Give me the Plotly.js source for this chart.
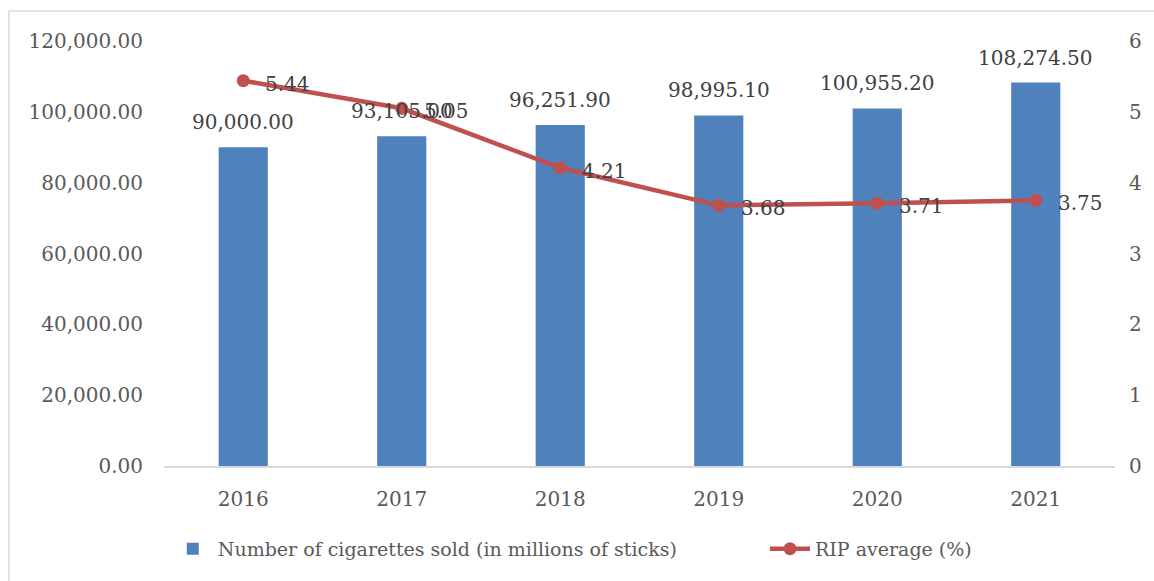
<!DOCTYPE html>
<html>
<head>
<meta charset="utf-8">
<script src="https://cdn.plot.ly/plotly-3.0.1.min.js"></script>
<style>html,body{margin:0;padding:0;background:#fff;}#chart{width:1154px;height:581px;}</style>
</head>
<body>
<div id="chart"></div>
<script>
const years = ['2016','2017','2018','2019','2020','2021'];
const cigarettesSold = [90000.00, 93105.00, 96251.90, 98995.10, 100955.20, 108274.50];
const ripAverage = [5.44, 5.05, 4.21, 3.68, 3.71, 3.75];
const ripLabels = ['5.44', '5.05', '4.21', '3.68', '3.71', '3.75'];
const leftTicks = [0, 20000, 40000, 60000, 80000, 100000, 120000];
const rightTicks = [0, 1, 2, 3, 4, 5, 6];

const fmt = v => v.toLocaleString('en-US', {minimumFractionDigits: 2, maximumFractionDigits: 2});
const tickFont = {family: 'DejaVu Serif', size: 20, color: '#595959'};
const labelFont = {family: 'DejaVu Serif', size: 20, color: '#404040'};
const legendFont = {family: 'DejaVu Serif', size: 19, color: '#595959'};

const traces = [
  {
    type: 'bar', x: years, y: cigarettesSold,
    name: 'Number of cigarettes sold (in millions of sticks)',
    marker: {color: '#4F81BD'}, width: 0.31, hoverinfo: 'none', legend: 'legend'
  },
  {
    type: 'scatter', mode: 'lines+markers', x: years, y: ripAverage, yaxis: 'y2',
    name: 'RIP average (%)',
    line: {color: '#C0504D', width: 4.5},
    marker: {color: '#C0504D', size: 13}, hoverinfo: 'none', legend: 'legend2'
  }
];

const annotations = [];
years.forEach((yr, i) => {
  annotations.push({x: i, y: cigarettesSold[i], xref: 'x', yref: 'y', text: fmt(cigarettesSold[i]),
    showarrow: false, xanchor: 'center', yanchor: 'middle', yshift: 25, font: labelFont});
  annotations.push({x: i, y: ripAverage[i], xref: 'x', yref: 'y2', text: ripLabels[i],
    showarrow: false, xanchor: 'left', yanchor: 'middle', xshift: 20, yshift: -3, font: labelFont});
});

const layout = {
  width: 1154, height: 581,
  margin: {l: 164, r: 39, t: 41, b: 115},
  paper_bgcolor: '#ffffff', plot_bgcolor: '#ffffff',
  showlegend: true,
  legend: {orientation: 'h', x: 0.004, xanchor: 'left', y: -0.195, yanchor: 'middle',
    font: legendFont, itemwidth: 40},
  legend2: {orientation: 'h', x: 0.632, xanchor: 'left', y: -0.195, yanchor: 'middle',
    font: legendFont, itemwidth: 40},
  xaxis: {type: 'category', range: [-0.5, 5.5], tickfont: tickFont, showline: true, linecolor: '#D9D9D9', linewidth: 1.5,
    showgrid: false, zeroline: false, ticks: '', ticklabelstandoff: 14},
  yaxis: {range: [0, 120000], tickvals: leftTicks, ticktext: leftTicks.map(fmt), tickfont: tickFont,
    showgrid: false, zeroline: false, showline: false, ticks: '', ticklabelstandoff: 20},
  yaxis2: {range: [0, 6], overlaying: 'y', side: 'right', tickvals: rightTicks, ticktext: rightTicks.map(String),
    tickfont: tickFont, showgrid: false, zeroline: false, showline: false, ticks: '', ticklabelstandoff: 13},
  shapes: [{type: 'rect', xref: 'paper', yref: 'paper', x0: -0.163, x1: 1.05, y0: -0.3, y1: 1.0706,
    line: {color: '#D9D9D9', width: 1.5}, fillcolor: 'rgba(0,0,0,0)', layer: 'below'}],
  annotations: annotations
};

Plotly.newPlot('chart', traces, layout, {displayModeBar: false, staticPlot: true});
</script>
</body>
</html>
